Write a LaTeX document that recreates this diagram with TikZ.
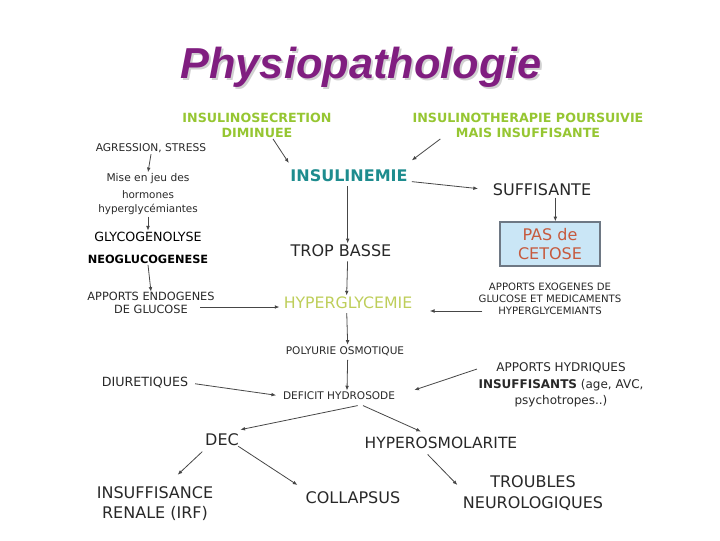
\documentclass[tikz,border=0pt]{standalone}
\usepackage{fontspec}
\setmainfont{DejaVu Sans}
\newfontfamily\titlefont{Liberation Sans}
\usetikzlibrary{arrows.meta}

\definecolor{titlepurple}{RGB}{128,30,128}
\definecolor{causegreen}{RGB}{150,198,50}
\definecolor{insteal}{RGB}{30,140,142}
\definecolor{glycgreen}{RGB}{190,206,90}
\definecolor{boxblue}{RGB}{202,230,246}
\definecolor{boxedge}{RGB}{110,120,132}
\definecolor{ketored}{RGB}{198,90,62}
\definecolor{txtgrey}{RGB}{40,40,40}
\definecolor{arrowgrey}{RGB}{70,70,70}

\newcommand{\shadowtitle}[1]{\makebox[0pt][l]{\hspace{1.5pt}\raisebox{-1.5pt}{\color{black!18}#1}}#1}

\tikzset{
  lbl/.style={inner sep=1pt, align=center, text=txtgrey},
  big/.style={lbl, font=\fontsize{12}{14}\selectfont},
  small/.style={lbl, font=\fontsize{8}{10.5}\selectfont},
  cause/.style={lbl, font=\fontsize{9.5}{11.3}\selectfont\bfseries, text=causegreen},
  flow/.style={draw=arrowgrey, line width=0.6pt, -{Latex[length=3.5pt,width=2.8pt]}},
}

\begin{document}
\begin{tikzpicture}[x=0.75pt, y=-0.75pt]
    % Frame
    \useasboundingbox (0,0) rectangle (720,540);

    % Title
    \node (title) [font=\titlefont\fontsize{32.5}{36}\selectfont\bfseries\itshape, text=titlepurple] at (361,68) {\shadowtitle{Physiopathologie}};

    % Top causes
    \node (insec) [cause] at (257,125) {INSULINOSECRETION\\DIMINUEE};
    \node (inther) [cause] at (528,125) {INSULINOTHERAPIE POURSUIVIE\\MAIS INSUFFISANTE};

    % Left column: stress chain
    \node (agress) [small] at (151,148) {AGRESSION, STRESS};
    \node (mise) [small] at (148,179) {Mise en jeu des};
    \node (hormones) [small, font=\fontsize{7.8}{10.5}\selectfont] at (148,203) {hormones\\hyperglycémiantes};
    \node (glyco) [lbl, font=\fontsize{9.5}{11}\selectfont, text=black] at (148,237) {GLYCOGENOLYSE};
    \node (neoglu) [lbl, font=\fontsize{8.5}{11}\selectfont\bfseries, text=black] at (148,259) {NEOGLUCOGENESE};
    \node (endo) [lbl, font=\fontsize{8.5}{10}\selectfont] at (151,303) {APPORTS ENDOGENES\\DE GLUCOSE};

    % Central column
    \node (insulinemie) [lbl, font=\fontsize{12}{14}\selectfont\bfseries, text=insteal] at (349,176) {INSULINEMIE};
    \node (trop) [big] at (341,251) {TROP BASSE};
    \node (hyper) [big, text=glycgreen, font=\fontsize{11.8}{14}\selectfont] at (348,303) {HYPERGLYCEMIE};
    \node (polyurie) [small, font=\fontsize{7.9}{9}\selectfont] at (345,351) {POLYURIE OSMOTIQUE};
    \node (deficit) [small, font=\fontsize{7.9}{9}\selectfont] at (339,396) {DEFICIT HYDROSODE};

    % Right column
    \node (suff) [big] at (542,190) {SUFFISANTE};
    \node (pas) [big, text=ketored, fill=boxblue, draw=boxedge, line width=1pt,
                 minimum width=75pt, minimum height=33pt, font=\fontsize{12}{14}\selectfont] at (550,244) {PAS de\\CETOSE};
    \node (exo) [lbl, font=\fontsize{7.6}{9}\selectfont] at (550,299) {APPORTS EXOGENES DE\\GLUCOSE ET MEDICAMENTS\\HYPERGLYCEMIANTS};
    \node (diur) [lbl, font=\fontsize{9.5}{11}\selectfont] at (145,383) {DIURETIQUES};
    \node (hydr) [lbl, font=\fontsize{9}{12.5}\selectfont] at (561,385) {APPORTS HYDRIQUES\\\textbf{INSUFFISANTS} (age, AVC,\\psychotropes..)};

    % Consequences
    \node (dec) [big] at (222,440) {DEC};
    \node (hyperosmo) [big, font=\fontsize{11.6}{14}\selectfont] at (441,443) {HYPEROSMOLARITE};
    \node (irf) [big, font=\fontsize{12}{15}\selectfont] at (155,504) {INSUFFISANCE\\RENALE (IRF)};
    \node (collapsus) [big] at (353,498) {COLLAPSUS};
    \node (troubles) [big, font=\fontsize{12}{15.5}\selectfont] at (533,493) {TROUBLES\\NEUROLOGIQUES};

    % Arrows: left column
    \draw[flow] (agress.south) -- (mise.north);
    \draw[flow] (hormones.south) -- (glyco.north);
    \draw[flow] (neoglu.south) -- ([yshift=-1pt]endo.north);
    \draw[flow, shorten <=-12pt, shorten >=2pt] ([yshift=-3pt]endo.east) -- ([yshift=-3pt]hyper.west);

    % Arrows: insulin
    \draw[flow] ([xshift=12pt]insec.south) -- ([yshift=4pt]insulinemie.north west);
    \draw[flow] ([xshift=22pt]inther.south west) -- ([xshift=2pt, yshift=6pt]insulinemie.north east);
    \draw[flow, shorten <=2pt, shorten >=10pt] ([yshift=-4pt]insulinemie.east) -- (suff.west);
    \draw[flow] ([xshift=10pt]suff.south) -- ([xshift=4pt]pas.north);
    \draw[flow, shorten <=2pt] ([xshift=-1pt]insulinemie.south) -- ([xshift=5pt]trop.north);

    % Arrows: central chain
    \draw[flow, shorten <=2pt] ([xshift=5pt]trop.south) -- ([xshift=-1pt]hyper.north);
    \draw[flow, shorten <=2pt, shorten >=12pt] ([xshift=6pt, yshift=-9pt]exo.west) -- ([yshift=-6pt]hyper.east);
    \draw[flow, shorten <=2pt] ([xshift=-1pt]hyper.south) -- ([xshift=2pt]polyurie.north);
    \draw[flow, shorten <=2pt] ([xshift=2pt]polyurie.south) -- ([xshift=6pt]deficit.north);
    \draw[flow, shorten <=4pt, shorten >=4pt] (diur.east) -- (deficit.west);
    \draw[flow, shorten >=14pt] ([yshift=-6pt]hydr.north west) -- (deficit.east);

    % Arrows: consequences
    \draw[flow] ([xshift=14pt, yshift=-3pt]deficit.south) -- ([yshift=2pt]dec.north east);
    \draw[flow] ([xshift=18pt, yshift=-3pt]deficit.south) -- ([xshift=-15pt, yshift=3pt]hyperosmo.north);
    \draw[flow] ([xshift=-1pt, yshift=-3pt]dec.south west) -- ([xshift=17pt, yshift=8pt]irf.north);
    \draw[flow, shorten <=-2pt] (dec.south east) -- ([xshift=-5pt, yshift=4pt]collapsus.north west);
    \draw[flow] ([xshift=-10pt, yshift=-3pt]hyperosmo.south) -- ([xshift=-3pt, yshift=6pt]troubles.west);
\end{tikzpicture}
\end{document}
